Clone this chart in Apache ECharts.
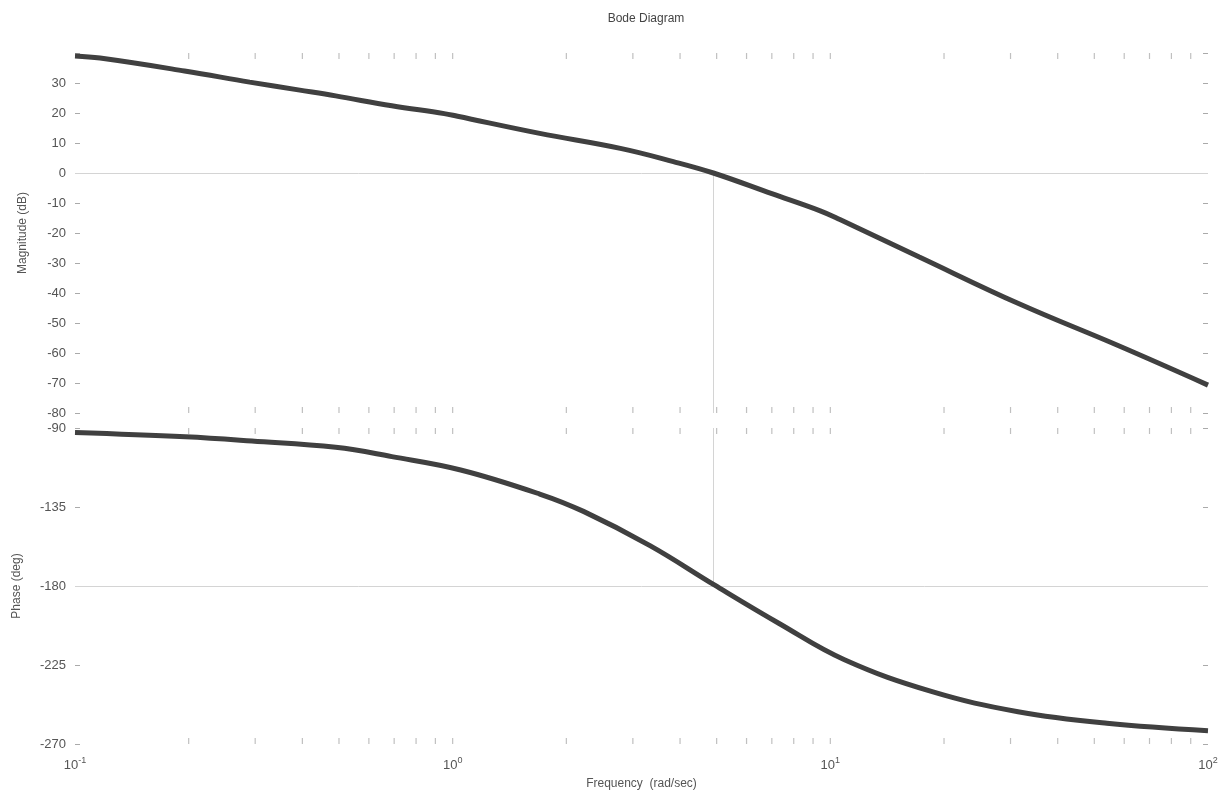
<!DOCTYPE html>
<html>
<head>
<meta charset="utf-8">
<script src="https://cdn.jsdelivr.net/npm/echarts@6/dist/echarts.min.js"></script>
<style>html,body{margin:0;padding:0;background:#fff}#c{width:1229px;height:805px}</style>
</head>
<body>
<div id="c"></div>
<script>
// ---- data ----
const magFreq = [0.1, 0.1165, 0.195, 0.29, 0.39, 0.49, 0.69, 0.95, 1.03, 1.70, 2.78, 3.84, 4.9, 7.0, 9.4, 10.6, 17.2, 31.6, 58, 100];
const magDb   = [39.0, 38.3, 34.0, 30.3, 27.7, 25.7, 22.4, 19.8, 18.9, 13.2, 8.2, 3.8, 0.0, -6.9, -12.6, -15.5, -28.0, -43.6, -57.6, -70.7];
const phFreq  = [0.1, 0.196, 0.294, 0.49, 0.69, 1.05, 1.70, 2.22, 3.33, 4.93, 7.3, 10.9, 18.6, 31.4, 54, 100];
const phDeg   = [-92.5, -95.0, -97.4, -101.0, -106.3, -113.9, -127.6, -137.5, -157.0, -179.4, -201.2, -222.0, -240.2, -251.6, -258.2, -262.4];
const crossoverFreq = 4.9;
const edgeTickFreqs = [0.2,0.3,0.4,0.5,0.6,0.7,0.8,0.9,1,2,3,4,5,6,7,8,9,10,20,30,40,50,60,70,80,90];
const magRange = [-80, 40], magStep = 10;
const phRange = [-270, -90], phStep = 45;

const FONT = 'Liberation Sans, Arial, sans-serif';
const TXT = '#555';
const tickStyle = {color:'#aaa', width:1};

function pairs(xs, ys){ return xs.map((x,i)=>[x, ys[i]]); }
function edgeSeries(xi, yi, yVal, offset){
  return {type:'scatter', xAxisIndex:xi, yAxisIndex:yi, silent:true, z:1,
    symbol:'rect', symbolSize:[1.2,6], symbolOffset:[0,offset],
    itemStyle:{color:'#b0b0b0'}, data: edgeTickFreqs.map(f=>[f,yVal]), animation:false};
}
function logAx(gi, showLabels){
  return {type:'log', logBase:10, min:0.1, max:100, gridIndex:gi,
    axisLine:{show:false}, axisTick:{show:false}, splitLine:{show:false},
    axisLabel:{show:showLabels, margin:12, fontFamily:FONT, color:TXT,
      formatter:function(v){ const e=Math.round(Math.log10(v)); return '{b|10}{s|'+e+'}'; },
      rich:{b:{fontSize:13, fontFamily:FONT, color:TXT}, s:{fontSize:9, fontFamily:FONT, color:TXT, verticalAlign:'top', padding:[0,0,10,0]}}},
    name: showLabels ? 'Frequency  (rad/sec)' : '', nameLocation:'middle', nameGap:34,
    nameTextStyle:{fontSize:12, fontFamily:FONT, color:TXT}};
}
function yAx(gi, range, step, name, gap, hideTop, right){
  return {type:'value', gridIndex:gi, min:range[0], max:range[1], interval:step,
    position: right ? 'right' : 'left',
    axisLine:{show:false}, splitLine:{show:false},
    axisTick:{show:true, inside:true, length:5, lineStyle:tickStyle},
    axisLabel:{show:!right, margin:9, fontSize:13, fontFamily:FONT, color:TXT,
      formatter:function(v){ return (hideTop && v===range[1]) ? '' : String(v); }},
    name: right ? '' : name, nameLocation:'middle', nameGap:gap, nameRotate:90,
    nameTextStyle:{fontSize:12, fontFamily:FONT, color:TXT}};
}

const chart = echarts.init(document.getElementById('c'), null, {renderer:'canvas'});
chart.setOption({
  animation:false,
  backgroundColor:'#fff',
  title:{text:'Bode Diagram', left:641, textAlign:'center', top:8, textStyle:{fontSize:12, fontWeight:'normal', fontFamily:FONT, color:'#444'}},
  grid:[
    {left:75, right:21, top:53, height:360},
    {left:75, right:21, top:428, height:316}
  ],
  xAxis:[logAx(0,false), logAx(1,true)],
  yAxis:[
    yAx(0, magRange, magStep, 'Magnitude (dB)', 46, true, false),
    yAx(1, phRange, phStep, 'Phase (deg)', 52, false, false),
    yAx(0, magRange, magStep, '', 0, true, true),
    yAx(1, phRange, phStep, '', 0, false, true)
  ],
  series:[
    {type:'line', xAxisIndex:0, yAxisIndex:0, data:pairs(magFreq, magDb), smooth:0.4, showSymbol:false, z:5,
     lineStyle:{width:5, color:'#404040'},
     markLine:{silent:true, symbol:'none', label:{show:false}, lineStyle:{color:'#d4d4d4', width:1, type:'solid'},
       data:[{yAxis:0}, [{coord:[crossoverFreq,0]},{coord:[crossoverFreq,magRange[0]]}]]}},
    {type:'line', xAxisIndex:1, yAxisIndex:1, data:pairs(phFreq, phDeg), smooth:0.4, showSymbol:false, z:5,
     lineStyle:{width:5, color:'#404040'},
     markLine:{silent:true, symbol:'none', label:{show:false}, lineStyle:{color:'#d4d4d4', width:1, type:'solid'},
       data:[{yAxis:-180}, [{coord:[crossoverFreq,phRange[1]]},{coord:[crossoverFreq,-180]}]]}},
    edgeSeries(0,0,magRange[1],3), edgeSeries(0,0,magRange[0],-3),
    edgeSeries(1,1,phRange[1],3), edgeSeries(1,1,phRange[0],-3)
  ]
});
</script>
</body>
</html>
